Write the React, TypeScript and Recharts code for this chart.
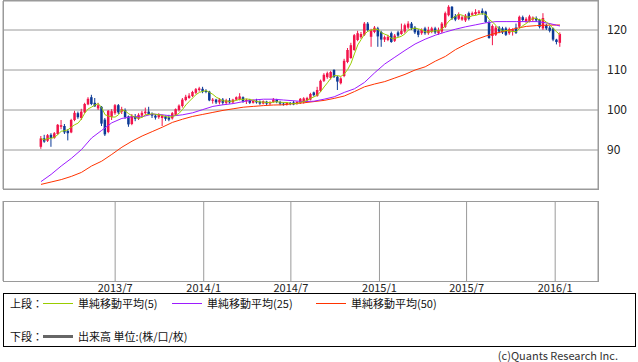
import { ComposedChart, Bar, Line, XAxis, YAxis, CartesianGrid } from "recharts";

// weekly candles, first one is the week of 2013-01-28
const FIRST_WEEK = "2013-01-28";

const opens = [
  90.8, 92.9, 92.3, 93.8, 93.0, 94.0, 95.8, 96.0, 94.8, 94.4,
  97.5, 99.2, 98.0, 99.4, 101.4, 103.2, 101.8, 100.4, 100.8, 97.6,
  94.5, 98.3, 99.2, 101.2, 99.6, 100.0, 98.4, 96.5, 98.5, 97.8,
  98.6, 99.2, 99.6, 99.0, 98.6, 98.2, 98.0, 98.4, 98.2, 97.9,
  98.8, 100.0, 101.0, 102.5, 103.0, 103.5, 104.3, 105.0, 105.3, 104.8,
  104.6, 102.3, 102.6, 101.9, 102.6, 101.8, 102.4, 101.9, 102.6, 102.6,
  103.2, 102.2, 102.4, 101.8, 102.3, 102.1, 101.6, 102.1, 101.6, 102.0,
  102.5, 102.0, 101.6, 101.4, 101.8, 101.9, 101.5, 101.7, 102.0, 102.4,
  102.6, 104.4, 103.5, 104.8, 107.3, 108.2, 108.0, 110.0, 108.3, 106.7,
  108.5, 112.0, 113.0, 115.0, 117.5, 118.2, 118.8, 121.6, 118.3, 119.5,
  120.4, 119.5, 117.6, 117.5, 119.2, 117.3, 119.4, 119.0, 119.6, 120.6,
  121.6, 120.6, 119.8, 119.2, 120.4, 119.2, 119.6, 120.4, 119.2, 119.6,
  120.8, 123.7, 125.8, 123.5, 122.8, 122.6, 122.4, 124.2, 123.8, 124.0,
  124.2, 124.8, 124.6, 122.0, 118.5, 118.8, 120.6, 120.4, 120.4, 119.2,
  119.6, 120.6, 120.8, 123.2, 122.2, 122.2, 122.6, 123.0, 122.5, 120.4,
  121.2, 120.6, 120.4, 117.6, 116.8,
];
const highs = [
  93.5, 93.8, 94.0, 94.2, 94.5, 96.5, 97.5, 96.5, 95.2, 97.8,
  99.8, 99.6, 100.3, 101.8, 103.2, 103.8, 103.0, 101.8, 101.0, 98.0,
  100.0, 100.2, 101.5, 101.5, 100.8, 100.4, 98.6, 99.0, 99.0, 99.2,
  99.8, 100.6, 100.8, 99.4, 99.0, 99.2, 98.9, 98.6, 98.8, 99.5,
  100.4, 101.4, 103.0, 103.8, 104.2, 104.8, 105.5, 105.8, 105.8, 105.2,
  104.8, 103.0, 102.8, 103.0, 103.0, 102.8, 103.0, 102.8, 103.4, 104.2,
  103.4, 102.8, 102.8, 102.6, 102.8, 102.4, 102.4, 102.3, 102.2, 103.0,
  102.8, 102.3, 101.9, 102.0, 102.0, 102.3, 102.2, 103.0, 103.2, 103.3,
  104.3, 104.6, 105.8, 107.6, 109.2, 109.6, 109.8, 110.2, 108.6, 108.2,
  112.8, 115.5, 116.8, 119.0, 119.8, 119.5, 122.0, 122.0, 120.3, 121.0,
  120.8, 119.8, 118.6, 118.8, 119.6, 119.0, 119.8, 121.6, 121.6, 122.2,
  122.0, 121.0, 120.2, 120.4, 120.8, 120.8, 120.8, 120.8, 120.6, 122.0,
  124.6, 126.2, 126.0, 124.0, 124.4, 123.6, 124.0, 124.6, 124.6, 125.2,
  125.0, 125.4, 124.8, 122.4, 121.4, 121.0, 121.0, 120.8, 120.8, 120.6,
  120.4, 121.6, 123.6, 123.6, 123.2, 123.8, 123.4, 123.4, 122.8, 124.2,
  121.6, 121.0, 120.6, 117.8, 119.4,
];
const lows = [
  90.3, 91.8, 92.0, 90.8, 92.8, 93.8, 95.2, 94.0, 92.4, 94.2,
  97.2, 97.8, 97.5, 99.2, 101.2, 101.2, 100.8, 100.0, 96.0, 93.5,
  94.2, 97.5, 98.8, 99.0, 99.0, 97.8, 95.8, 96.2, 97.2, 97.5,
  98.2, 98.8, 98.8, 98.0, 97.6, 97.8, 96.0, 97.3, 97.2, 97.6,
  98.5, 99.6, 100.6, 102.2, 102.8, 103.2, 104.0, 104.6, 104.2, 104.2,
  102.2, 101.6, 101.5, 101.4, 101.3, 101.4, 101.6, 101.6, 102.4, 102.4,
  101.8, 101.5, 101.5, 101.6, 101.6, 101.3, 101.4, 101.2, 101.2, 101.8,
  101.7, 101.2, 101.1, 101.1, 101.2, 101.2, 101.3, 101.5, 101.6, 102.0,
  102.4, 103.4, 103.3, 104.5, 107.0, 107.8, 107.6, 108.0, 105.0, 106.4,
  108.2, 111.7, 112.8, 114.8, 117.2, 117.8, 118.5, 119.6, 115.8, 119.2,
  115.8, 115.8, 117.0, 117.2, 116.8, 117.0, 118.2, 118.8, 119.2, 120.2,
  120.0, 119.0, 118.2, 118.8, 118.8, 118.8, 119.2, 119.0, 118.8, 119.2,
  120.5, 123.4, 122.5, 122.2, 122.5, 122.3, 122.0, 122.4, 123.5, 123.7,
  123.9, 123.8, 121.8, 117.8, 116.2, 118.5, 119.2, 119.0, 118.5, 118.8,
  118.6, 119.0, 120.4, 122.2, 121.8, 121.9, 122.2, 122.0, 120.4, 120.0,
  120.0, 119.4, 117.2, 116.4, 115.8,
];
const closes = [
  92.9, 92.1, 93.7, 93.0, 94.2, 96.3, 96.2, 94.4, 94.2, 97.5,
  99.3, 98.2, 99.6, 101.5, 102.8, 101.5, 100.9, 101.2, 96.6, 93.9,
  99.8, 99.7, 101.2, 99.4, 100.2, 98.2, 96.4, 98.5, 97.8, 98.8,
  99.3, 99.6, 99.0, 98.6, 98.1, 98.8, 98.6, 97.8, 97.6, 99.2,
  100.2, 101.1, 102.6, 103.3, 103.6, 104.5, 105.2, 105.4, 104.6, 104.5,
  102.4, 102.6, 101.9, 102.6, 101.8, 102.4, 101.9, 102.6, 103.2, 103.4,
  102.2, 102.5, 101.8, 102.3, 101.9, 101.6, 102.2, 101.6, 101.9, 102.6,
  102.0, 101.6, 101.4, 101.8, 101.5, 101.4, 102.0, 102.8, 102.9, 103.0,
  104.0, 103.7, 105.0, 107.3, 108.8, 109.2, 109.5, 108.3, 107.1, 107.9,
  112.3, 115.0, 116.2, 118.7, 119.2, 119.0, 121.6, 120.0, 120.0, 120.6,
  118.4, 117.6, 118.2, 118.3, 117.0, 118.6, 118.6, 119.8, 121.2, 121.6,
  120.4, 119.4, 118.8, 120.0, 119.2, 120.0, 120.4, 119.4, 120.0, 121.6,
  124.2, 125.8, 122.9, 122.6, 124.0, 123.2, 123.6, 122.8, 124.2, 124.5,
  124.6, 124.2, 122.0, 118.0, 121.0, 120.6, 119.6, 119.4, 118.8, 120.2,
  120.2, 119.3, 123.3, 122.5, 122.8, 123.4, 123.1, 122.4, 120.8, 123.0,
  120.4, 119.8, 117.6, 117.0, 119.0,
];

// 25- and 50-week averages at these weeks
const maWeeks = [
  0, 3, 6, 9, 12, 15, 18, 21, 24, 27, 30, 33, 36, 39, 42, 45, 48, 51,
  54, 57, 60, 63, 66, 69, 72, 75, 78, 81, 84, 87, 90, 93, 96, 99, 102,
  105, 108, 111, 114, 117, 120, 123, 126, 129, 132, 135, 138, 141, 144,
  147, 150, 153, 154,
];
const ma25 = [
  82.1, 83.9, 86.0, 87.9, 90.1, 93.0, 94.9, 96.8, 97.9, 98.3, 98.3, 99.0,
  98.8, 98.5, 98.8, 99.3, 100.1, 100.9, 101.3, 101.6, 102.1, 102.5, 102.7,
  102.7, 102.5, 102.3, 102.1, 102.2, 102.7, 103.3, 104.4, 105.3, 106.9,
  109.3, 111.5, 113.2, 114.9, 116.5, 117.7, 118.7, 119.5, 120.2, 120.8,
  121.3, 121.8, 122.1, 122.1, 122.1, 122.1, 122.1, 121.8, 121.2, 121.0,
];
const ma50 = [
  81.4, 82.0, 82.6, 83.4, 84.4, 86.0, 87.2, 88.9, 90.7, 92.2, 93.5, 94.6,
  95.7, 96.9, 97.7, 98.4, 98.9, 99.4, 99.9, 100.3, 100.7, 100.9, 101.1,
  101.25, 101.3, 101.6, 101.8, 102.1, 102.4, 102.9, 103.5, 104.6, 105.8,
  106.5, 107.1, 108.0, 108.9, 110.0, 110.8, 112.2, 113.4, 115.1, 116.4,
  117.6, 118.5, 119.2, 119.8, 120.4, 120.9, 121.1, 121.2, 121.25, 121.25,
];

const xTickDates = ["2013-07-01", "2014-01-01", "2014-07-01", "2015-01-01", "2015-07-01", "2016-01-01"];
const xTickLabels = ["2013/7", "2014/1", "2014/7", "2015/1", "2015/7", "2016/1"];
const yTicks = [90, 100, 110, 120];

const RED = "#f2144a";
const BLUE = "#0c3a96";
const GRID = "#9a9a9a";
const FONT = '"Noto Sans CJK JP", "DejaVu Sans", sans-serif';

const WEEK_MS = 7 * 24 * 3600 * 1000;
const weekOf = (d: string) => (Date.parse(d) - Date.parse(FIRST_WEEK)) / WEEK_MS;
const xTicks = xTickDates.map(weekOf);
const X_DOMAIN: [number, number] = [-11.28, 165.28];

type Row = {
  w: number;
  open: number;
  high: number;
  low: number;
  close: number;
  range: [number, number];
  ma5: number;
  ma25: number | null;
  ma50: number | null;
};

// ma5 is the simple 5-week average of the closes (shorter window for the first weeks)
const rows: Row[] = opens.map((o, i) => {
  const win = closes.slice(Math.max(0, i - 4), i + 1);
  return {
    w: i,
    open: o,
    high: highs[i],
    low: lows[i],
    close: closes[i],
    range: [lows[i], highs[i]],
    ma5: win.reduce((a, b) => a + b, 0) / win.length,
    ma25: null,
    ma50: null,
  };
});
maWeeks.forEach((w, k) => {
  rows[w].ma25 = ma25[k];
  rows[w].ma50 = ma50[k];
});

function Candle(props: any) {
  const { x, y, width, height, payload } = props;
  if (!payload) return null;
  const { open, close, high, low } = payload as Row;
  const top = Math.min(y, y + height);
  const h = Math.abs(height);
  const per = h / (high - low);
  const color = close >= open ? RED : BLUE;
  const cx = x + width / 2;
  const bTop = top + (high - Math.max(open, close)) * per;
  const bBot = top + (high - Math.min(open, close)) * per;
  return (
    <g>
      <line x1={cx} x2={cx} y1={top} y2={top + h} stroke={color} strokeWidth={1} />
      <rect x={cx - 1.25} y={bTop} width={2.5} height={Math.max(1, bBot - bTop)} fill={color} />
    </g>
  );
}

const tickLabel = (v: number) => {
  const k = xTicks.findIndex((t) => Math.abs(t - v) < 0.01);
  return k >= 0 ? xTickLabels[k] : "";
};

const legendText: React.CSSProperties = {
  position: "absolute",
  fontSize: 11,
  lineHeight: "14px",
  color: "#111",
  whiteSpace: "nowrap",
};

function LegendLine({ left, top, color, thick }: { left: number; top: number; color: string; thick?: boolean }) {
  return (
    <div
      style={{
        position: "absolute",
        left,
        top,
        width: 30,
        height: thick ? 3 : 1,
        background: color,
      }}
    />
  );
}

export default function App() {
  return (
    <div
      style={{
        position: "absolute",
        left: 0,
        top: 0,
        width: 638,
        height: 362,
        background: "#fff",
        fontFamily: FONT,
        overflow: "hidden",
      }}
    >
      <div style={{ position: "absolute", left: 0, top: 0 }}>
        <ComposedChart width={638} height={190} data={rows} margin={{ top: 1, right: 0, bottom: 1, left: 3 }}>
          <CartesianGrid stroke={GRID} horizontal vertical />
          <XAxis
            dataKey="w"
            type="number"
            domain={X_DOMAIN}
            ticks={xTicks}
            height={0}
            tick={false}
            axisLine={false}
            tickLine={false}
          />
          <YAxis
            orientation="right"
            width={40}
            domain={[80.25, 127.25]}
            ticks={yTicks}
            axisLine={false}
            tickLine={false}
            tickSize={0}
            tickMargin={9}
            tick={{ fontSize: 12, fill: "#222" }}
          />
          <Bar dataKey="range" barSize={3} shape={<Candle />} isAnimationActive={false} />
          <Line dataKey="ma50" stroke="#ff3300" strokeWidth={1} dot={false} connectNulls isAnimationActive={false} />
          <Line dataKey="ma25" stroke="#9d1cff" strokeWidth={1} dot={false} connectNulls isAnimationActive={false} />
          <Line dataKey="ma5" stroke="#99cc00" strokeWidth={1} dot={false} isAnimationActive={false} />
        </ComposedChart>
      </div>
      <div style={{ position: "absolute", left: 3, top: 0, width: 596, height: 190, boxSizing: "border-box", border: `1px solid ${GRID}` }} />

      <div style={{ position: "absolute", left: 0, top: 190 }}>
        <ComposedChart width={638} height={110} data={rows} margin={{ top: 11, right: 0, bottom: 0, left: 3 }}>
          <CartesianGrid stroke={GRID} horizontal={false} vertical />
          <XAxis
            dataKey="w"
            type="number"
            domain={X_DOMAIN}
            ticks={xTicks}
            height={19}
            axisLine={false}
            tickLine={false}
            tickSize={0}
            tickMargin={3}
            tickFormatter={tickLabel}
            tick={{ fontSize: 11, fill: "#222" }}
          />
          <YAxis orientation="right" width={40} domain={[0, 1]} tick={false} axisLine={false} tickLine={false} />
        </ComposedChart>
      </div>
      <div style={{ position: "absolute", left: 3, top: 201, width: 596, height: 81, boxSizing: "border-box", border: `1px solid ${GRID}` }} />

      <div style={{ position: "absolute", left: 3, top: 293, width: 633, height: 54, boxSizing: "border-box", border: "1px solid #000" }} />
      <div style={{ ...legendText, left: 10, top: 296 }}>上段：</div>
      <LegendLine left={43} top={303} color="#99cc00" />
      <div style={{ ...legendText, left: 78, top: 296 }}>単純移動平均(5)</div>
      <LegendLine left={172} top={303} color="#9d1cff" />
      <div style={{ ...legendText, left: 207, top: 296 }}>単純移動平均(25)</div>
      <LegendLine left={316} top={303} color="#ff3300" />
      <div style={{ ...legendText, left: 351, top: 296 }}>単純移動平均(50)</div>

      <div style={{ ...legendText, left: 10, top: 329 }}>下段：</div>
      <LegendLine left={43} top={335} color="#666" thick />
      <div style={{ ...legendText, left: 78, top: 329 }}>出来高 単位:(株/口/枚)</div>

      <div style={{ ...legendText, right: 20, top: 349, lineHeight: "12px", color: "#333" }}>(c)Quants Research Inc.</div>
    </div>
  );
}
